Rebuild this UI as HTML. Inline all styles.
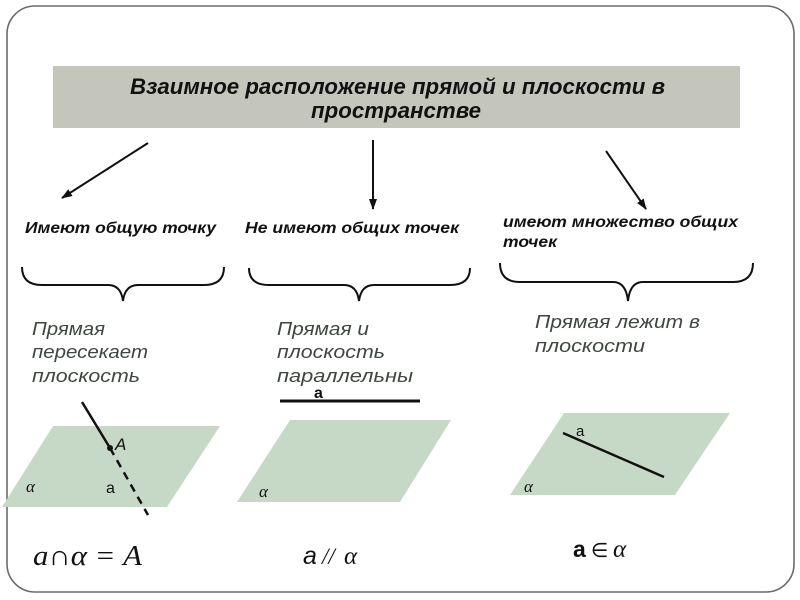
<!DOCTYPE html>
<html><head><meta charset="utf-8"><style>
html,body{margin:0;padding:0;background:#fff;}
svg{display:block;}
.t{font-family:"Liberation Sans",sans-serif;font-style:italic;font-weight:bold;fill:#111;}
.g{font-family:"Liberation Sans",sans-serif;font-style:italic;fill:#3f463f;}
.s{font-family:"Liberation Serif",serif;font-style:italic;fill:#111;}
</style></head><body>
<svg width="800" height="600" viewBox="0 0 800 600" xmlns="http://www.w3.org/2000/svg">
<defs>
<marker id="ah" markerWidth="12" markerHeight="12" refX="10" refY="5" orient="auto" markerUnits="userSpaceOnUse">
<path d="M0,1 L11,5 L0,9 Z" fill="#111"/>
</marker>
</defs>
<rect x="7" y="6" width="787" height="586" rx="28" ry="28" fill="#fff" stroke="#6a6a6a" stroke-width="1.6"/>
<rect x="53" y="66" width="687" height="62" fill="#c5c6bb"/>
<text class="t" x="130" y="94" font-size="22" textLength="535" lengthAdjust="spacingAndGlyphs">Взаимное расположение прямой и плоскости в</text>
<text class="t" x="311" y="118" font-size="22" textLength="170" lengthAdjust="spacingAndGlyphs">пространстве</text>

<g stroke="#111" stroke-width="2" fill="none">
<line x1="148" y1="143" x2="62" y2="198" marker-end="url(#ah)"/>
<line x1="373" y1="140" x2="373" y2="209" marker-end="url(#ah)"/>
<line x1="606" y1="151" x2="646" y2="209" marker-end="url(#ah)"/>
</g>

<text class="t" x="25" y="233" font-size="16" textLength="191" lengthAdjust="spacingAndGlyphs">Имеют общую точку</text>
<text class="t" x="245" y="233" font-size="16" textLength="214" lengthAdjust="spacingAndGlyphs">Не имеют общих точек</text>
<text class="t" x="503" y="227" font-size="16" textLength="235" lengthAdjust="spacingAndGlyphs">имеют множество общих</text>
<text class="t" x="503" y="247" font-size="16" textLength="54" lengthAdjust="spacingAndGlyphs">точек</text>

<g stroke="#111" stroke-width="2" fill="none">
<path d="M22,267 Q22,285 42,285 L108,285 Q121,285 123,301 Q125,285 138,285 L204,285 Q224,285 224,267"/>
<path d="M249,268 Q249,285 269,285 L344,285 Q357,285 359,301 Q361,285 374,285 L450,285 Q470,285 470,268"/>
<path d="M500,263 Q500,282 520,282 L613,282 Q626,282 628,301 Q630,282 643,282 L733,282 Q753,282 753,263"/>
</g>

<text class="g" x="32" y="335" font-size="18" textLength="73" lengthAdjust="spacingAndGlyphs">Прямая</text>
<text class="g" x="32" y="358" font-size="18" textLength="116" lengthAdjust="spacingAndGlyphs">пересекает</text>
<text class="g" x="32" y="382" font-size="18" textLength="108" lengthAdjust="spacingAndGlyphs">плоскость</text>

<text class="g" x="277" y="335" font-size="18" textLength="92" lengthAdjust="spacingAndGlyphs">Прямая и</text>
<text class="g" x="277" y="358" font-size="18" textLength="108" lengthAdjust="spacingAndGlyphs">плоскость</text>
<text class="g" x="277" y="382" font-size="18" textLength="136" lengthAdjust="spacingAndGlyphs">параллельны</text>

<text class="g" x="535" y="328" font-size="18" textLength="165" lengthAdjust="spacingAndGlyphs">Прямая лежит в</text>
<text class="g" x="535" y="352" font-size="18" textLength="110" lengthAdjust="spacingAndGlyphs">плоскости</text>

<!-- plane 1 -->
<polygon points="53,426 220,426 167,507 2,507" fill="#c6d9c7"/>
<line x1="82" y1="402" x2="110" y2="448" stroke="#111" stroke-width="2.5"/>
<line x1="110" y1="448" x2="148" y2="515" stroke="#111" stroke-width="2.5" stroke-dasharray="8,6"/>
<circle cx="110" cy="448" r="3" fill="#111"/>
<text x="115" y="450" font-size="17" font-style="italic" font-family="Liberation Sans, sans-serif" fill="#111">A</text>
<text x="106" y="493" font-size="16" font-family="Liberation Sans, sans-serif" fill="#111">a</text>
<text class="s" x="26" y="492" font-size="17">α</text>

<!-- plane 2 -->
<line x1="280" y1="401" x2="420" y2="401" stroke="#111" stroke-width="3"/>
<text x="314" y="398" font-size="16" font-weight="bold" font-family="Liberation Sans, sans-serif" fill="#111">a</text>
<polygon points="290,420 451,420 400,502 237,502" fill="#c6d9c7"/>
<text class="s" x="259" y="497" font-size="17">α</text>

<!-- plane 3 -->
<polygon points="564,413 730,413 675,495 510,495" fill="#c6d9c7"/>
<line x1="563" y1="433" x2="664" y2="477" stroke="#111" stroke-width="2.5"/>
<text x="576" y="436" font-size="15" font-family="Liberation Sans, sans-serif" fill="#111">a</text>
<text class="s" x="524" y="492" font-size="17">α</text>

<!-- formulas -->
<text class="s" x="33" y="565" font-size="28" textLength="109" lengthAdjust="spacingAndGlyphs">a∩α = A</text>
<text x="303" y="564" font-size="25" fill="#111" font-family="Liberation Sans, sans-serif" font-style="italic">a</text>
<text class="s" x="322" y="564" font-size="23">//</text>
<text class="s" x="344" y="564" font-size="25">α</text>
<text x="573" y="557" font-size="23" fill="#111" font-family="Liberation Sans, sans-serif" font-weight="bold">a</text>
<text x="591" y="557" font-size="20" fill="#111" font-family="DejaVu Sans, sans-serif">∈</text>
<text class="s" x="613" y="557" font-size="25">α</text>
</svg>
</body></html>
